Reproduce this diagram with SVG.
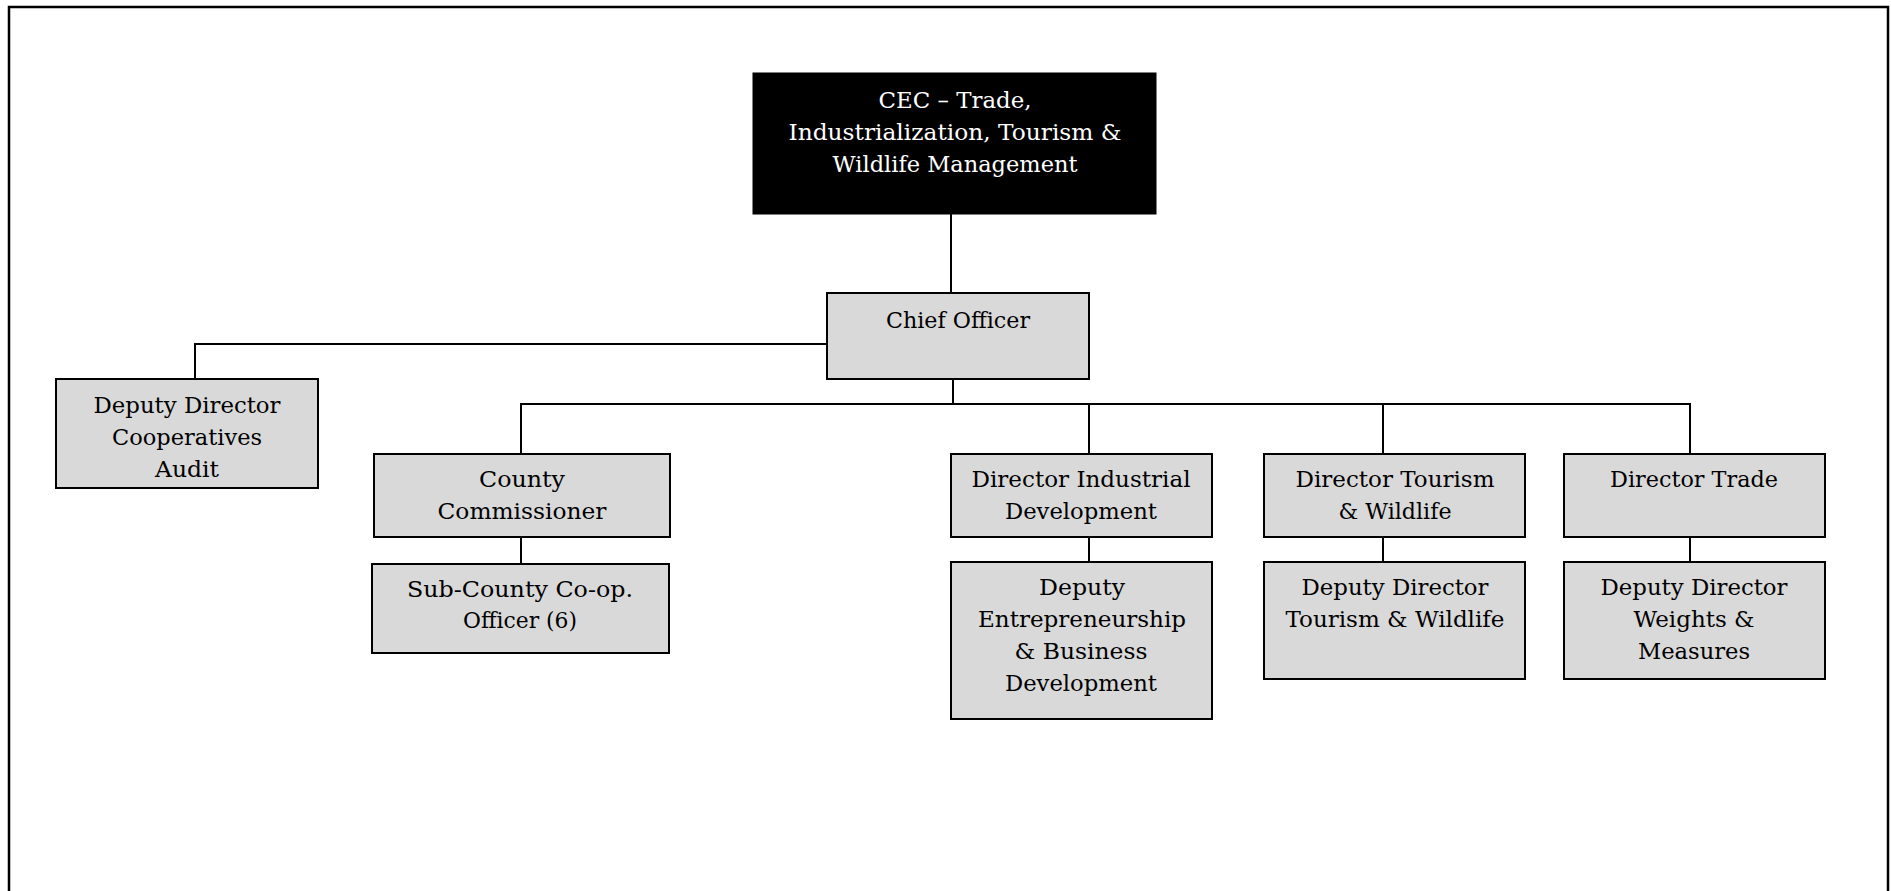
<svg xmlns="http://www.w3.org/2000/svg" width="1891" height="891" viewBox="0 0 1891 891">
<style>
.box{fill:#d9d9d9;stroke:#000;stroke-width:2}
.dark{fill:#000;stroke:#000;stroke-width:1}
.t{font-family:"DejaVu Serif","Liberation Serif",serif;font-size:22px;fill:#000;text-anchor:middle}
.w{fill:#fff}
.c{fill:none;stroke:#000;stroke-width:2}
</style>
<rect x="0" y="0" width="1891" height="891" fill="#fff"/>
<rect x="9" y="7" width="1879" height="900" fill="none" stroke="#000" stroke-width="2.5"/>
<g id="connectors">
<path class="c" d="M951 214V293"/>
<path class="c" d="M827 344H195V379"/>
<path class="c" d="M953 379V404"/>
<path class="c" d="M521 454V404H1690V454"/>
<path class="c" d="M1089 404V454"/>
<path class="c" d="M1383 404V454"/>
<path class="c" d="M521 537V564"/>
<path class="c" d="M1089 537V562"/>
<path class="c" d="M1383 537V562"/>
<path class="c" d="M1690 537V562"/>
</g>
<g id="cec">
<rect class="dark" x="753" y="73" width="403" height="141"/>
<text class="t w" x="955" y="108" textLength="153" lengthAdjust="spacingAndGlyphs">CEC – Trade,</text>
<text class="t w" x="955" y="140" textLength="333" lengthAdjust="spacingAndGlyphs">Industrialization, Tourism &amp;</text>
<text class="t w" x="955" y="172" textLength="245" lengthAdjust="spacingAndGlyphs">Wildlife Management</text>
</g>
<g id="chief-officer">
<rect class="box" x="827" y="293" width="262" height="86"/>
<text class="t" x="958" y="328" textLength="144" lengthAdjust="spacingAndGlyphs">Chief Officer</text>
</g>
<g id="deputy-cooperatives">
<rect class="box" x="56" y="379" width="262" height="109"/>
<text class="t" x="187" y="413" textLength="187" lengthAdjust="spacingAndGlyphs">Deputy Director</text>
<text class="t" x="187" y="445" textLength="150" lengthAdjust="spacingAndGlyphs">Cooperatives</text>
<text class="t" x="187" y="477" textLength="64" lengthAdjust="spacingAndGlyphs">Audit</text>
</g>
<g id="county-commissioner">
<rect class="box" x="374" y="454" width="296" height="83"/>
<text class="t" x="522" y="487" textLength="86" lengthAdjust="spacingAndGlyphs">County</text>
<text class="t" x="522" y="519" textLength="169" lengthAdjust="spacingAndGlyphs">Commissioner</text>
</g>
<g id="sub-county">
<rect class="box" x="372" y="564" width="297" height="89"/>
<text class="t" x="520" y="597" textLength="226" lengthAdjust="spacingAndGlyphs">Sub-County Co-op.</text>
<text class="t" x="520" y="628" textLength="114" lengthAdjust="spacingAndGlyphs">Officer (6)</text>
</g>
<g id="director-industrial">
<rect class="box" x="951" y="454" width="261" height="83"/>
<text class="t" x="1081" y="487" textLength="219" lengthAdjust="spacingAndGlyphs">Director Industrial</text>
<text class="t" x="1081" y="519" textLength="152" lengthAdjust="spacingAndGlyphs">Development</text>
</g>
<g id="director-tourism">
<rect class="box" x="1264" y="454" width="261" height="83"/>
<text class="t" x="1395" y="487" textLength="199" lengthAdjust="spacingAndGlyphs">Director Tourism</text>
<text class="t" x="1395" y="519" textLength="113" lengthAdjust="spacingAndGlyphs">&amp; Wildlife</text>
</g>
<g id="director-trade">
<rect class="box" x="1564" y="454" width="261" height="83"/>
<text class="t" x="1694" y="487" textLength="168" lengthAdjust="spacingAndGlyphs">Director Trade</text>
</g>
<g id="deputy-entrepreneurship">
<rect class="box" x="951" y="562" width="261" height="157"/>
<text class="t" x="1082" y="595" textLength="86" lengthAdjust="spacingAndGlyphs">Deputy</text>
<text class="t" x="1082" y="627" textLength="208" lengthAdjust="spacingAndGlyphs">Entrepreneurship</text>
<text class="t" x="1081" y="659" textLength="133" lengthAdjust="spacingAndGlyphs">&amp; Business</text>
<text class="t" x="1081" y="691" textLength="152" lengthAdjust="spacingAndGlyphs">Development</text>
</g>
<g id="deputy-tourism">
<rect class="box" x="1264" y="562" width="261" height="117"/>
<text class="t" x="1395" y="595" textLength="187" lengthAdjust="spacingAndGlyphs">Deputy Director</text>
<text class="t" x="1395" y="627" textLength="219" lengthAdjust="spacingAndGlyphs">Tourism &amp; Wildlife</text>
</g>
<g id="deputy-weights">
<rect class="box" x="1564" y="562" width="261" height="117"/>
<text class="t" x="1694" y="595" textLength="187" lengthAdjust="spacingAndGlyphs">Deputy Director</text>
<text class="t" x="1694" y="627" textLength="121" lengthAdjust="spacingAndGlyphs">Weights &amp;</text>
<text class="t" x="1694" y="659" textLength="112" lengthAdjust="spacingAndGlyphs">Measures</text>
</g>
</svg>
